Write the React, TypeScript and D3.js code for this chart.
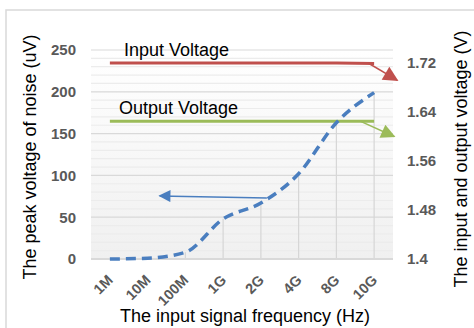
import React from "react";
import * as d3 from "d3";

const categories = ["1M", "10M", "100M", "1G", "2G", "4G", "8G", "10G"];
const noise = [0, 1, 8, 48, 67, 102, 163, 199];
const inputVoltage = [1.72, 1.72, 1.72, 1.72, 1.72, 1.72, 1.72, 1.719];
const outputVoltage = [1.625, 1.625, 1.625, 1.625, 1.625, 1.625, 1.625, 1.625];
const leftTicks = [0, 50, 100, 150, 200, 250];
const rightTicks = [1.4, 1.48, 1.56, 1.64, 1.72];

const W = 474, H = 328;
const M = { left: 91, right: 393, top: 50, bottom: 259 };

export default function App() {
  const x = d3.scalePoint<string>().domain(categories).range([M.left, M.right]).padding(0.5);
  const yL = d3.scaleLinear().domain([0, 250]).range([M.bottom, M.top]);
  const yR = d3.scaleLinear().domain([1.4, 1.72]).range([M.bottom, 63]);
  const minor = d3.range(0, 251, 10);
  const noiseLine = d3.line<number>().x((_, i) => x(categories[i])!).y(d => yL(d)).curve(d3.curveMonotoneX);
  const inLine = d3.line<number>().x((_, i) => x(categories[i])!).y(d => yR(d));
  const last = categories[categories.length - 1];
  const xl = x(last)!;
  const font = "'Liberation Sans', Arial, sans-serif";
  const tickColor = "#595959";
  return (
    <svg width={W} height={H} style={{ position: "absolute", left: 0, top: 0 }} fontFamily={font}>
      <defs>
        <linearGradient id="bg" x1="0" y1="0" x2="0" y2="1">
          <stop offset="0" stopColor="#ffffff" />
          <stop offset="1" stopColor="#f0f0f0" />
        </linearGradient>
        <marker id="ar" viewBox="0 0 10 10" refX="9" refY="5" markerWidth="11.5" markerHeight="10" orient="auto" markerUnits="strokeWidth">
          <path d="M0,0 L10,5 L0,10 z" fill="#c0504d" />
        </marker>
        <marker id="ag" viewBox="0 0 10 10" refX="9" refY="5" markerWidth="11" markerHeight="9.5" orient="auto" markerUnits="strokeWidth">
          <path d="M0,0 L10,5 L0,10 z" fill="#9bbb59" />
        </marker>
        <marker id="ab" viewBox="0 0 10 10" refX="9" refY="5" markerWidth="9" markerHeight="8" orient="auto" markerUnits="strokeWidth">
          <path d="M0,0 L10,5 L0,10 z" fill="#4a7ebf" />
        </marker>
      </defs>
      <rect x={0} y={0} width={W} height={H} fill="#fff" />
      <rect x={6} y={10} width={W} height={H} fill="none" stroke="#d9d9d9" strokeWidth={1.5} />
      <rect x={M.left} y={M.top} width={M.right - M.left} height={M.bottom - M.top} fill="url(#bg)" />
      {minor.map(v => (
        <line key={"m" + v} x1={M.left} x2={M.right} y1={yL(v)} y2={yL(v)} stroke={v % 50 === 0 ? "#d9d9d9" : "#ececec"} strokeWidth={1.2} />
      ))}
      {categories.map((c, i) => (
        <line key={"d" + c} x1={x(c)} x2={x(c)} y1={yL(noise[i])} y2={M.bottom} stroke="#d6d6d6" strokeWidth={1.2} />
      ))}
      <line x1={M.left} x2={M.right} y1={M.bottom} y2={M.bottom} stroke="#d9d9d9" strokeWidth={2} />
      {leftTicks.map(v => (
        <text key={"l" + v} x={76} y={yL(v)} dy="0.36em" textAnchor="end" fontSize={15} fontWeight="bold" fill={tickColor}>{v}</text>
      ))}
      {rightTicks.map(v => (
        <text key={"r" + v} x={407} y={yR(v)} dy="0.36em" textAnchor="start" fontSize={15} fontWeight="bold" fill={tickColor}>{v}</text>
      ))}
      {categories.map(c => (
        <text key={"x" + c} transform={`translate(${x(c)! + 4},281) rotate(-45)`} textAnchor="end" fontSize={14.5} fontWeight="bold" fill={tickColor}>{c}</text>
      ))}
      <path d={inLine(inputVoltage)!} fill="none" stroke="#c0504d" strokeWidth={3} />
      <path d={inLine(outputVoltage)!} fill="none" stroke="#9bbb59" strokeWidth={3} />
      <path d={noiseLine(noise)!} fill="none" stroke="#4a7ebf" strokeWidth={3.5} strokeDasharray="10,6" />
      <line x1={xl - 6} y1={yR(1.72)} x2={xl + 23} y2={yR(1.692)} stroke="#c0504d" strokeWidth={1.5} markerEnd="url(#ar)" />
      <line x1={xl - 14} y1={yR(1.625)} x2={xl + 20} y2={yR(1.6)} stroke="#9bbb59" strokeWidth={1.5} markerEnd="url(#ag)" />
      <line x1={x("2G")! + 6} y1={yL(73)} x2={x("10M")! + 12} y2={yL(75.5)} stroke="#4a7ebf" strokeWidth={1.5} markerEnd="url(#ab)" />
      <text x={124} y={56} fontSize={18} fill="#000">Input Voltage</text>
      <text x={119} y={114} fontSize={18} fill="#000">Output Voltage</text>
      <text transform={`translate(36,157) rotate(-90)`} textAnchor="middle" fontSize={18} fill="#000">The peak voltage  of noise (uV)</text>
      <text transform={`translate(467,159) rotate(-90)`} textAnchor="middle" fontSize={18} fill="#000">The input and output voltage (V)</text>
      <text x={245} y={322} textAnchor="middle" fontSize={18} fill="#000">The input signal frequency (Hz)</text>
    </svg>
  );
}
